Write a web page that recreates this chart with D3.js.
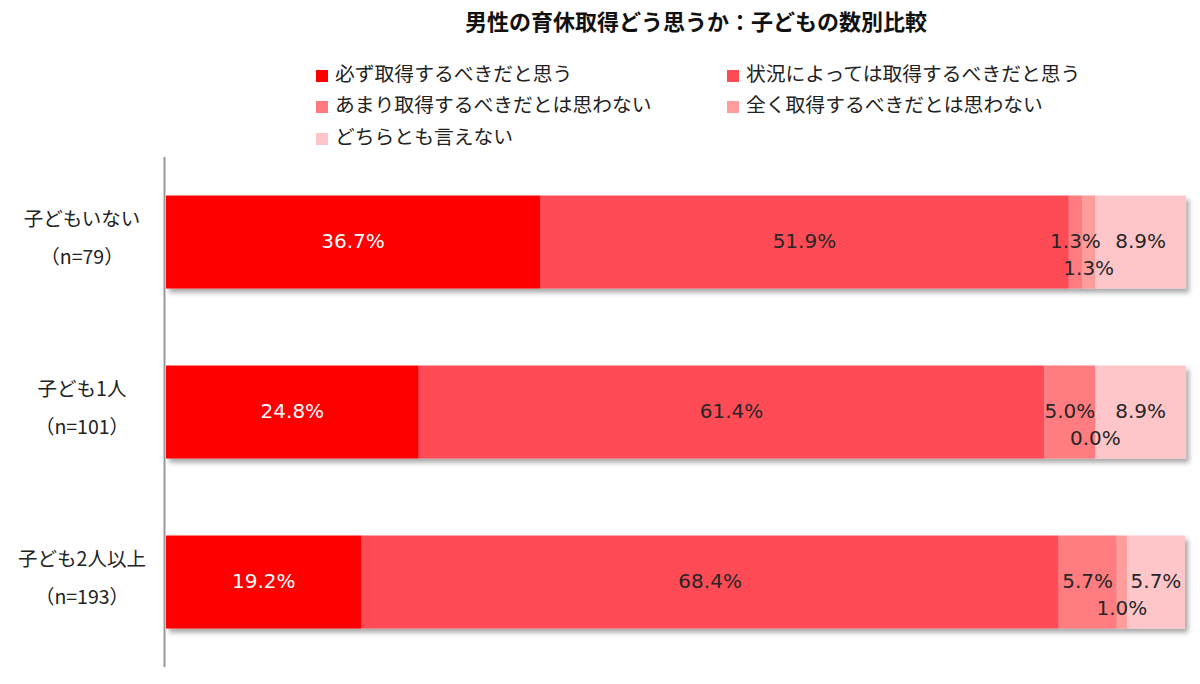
<!DOCTYPE html>
<html><head><meta charset="utf-8">
<script src="https://cdn.jsdelivr.net/npm/d3@7"></script>
<style>body{margin:0;background:#fff;}svg{display:block;}</style>
</head><body>
<script>
const title = "男性の育休取得どう思うか：子どもの数別比較";
const categories = ["子どもいない", "子ども1人", "子ども2人以上"];
const sampleSizes = ["（n=79）", "（n=101）", "（n=193）"];
const seriesNames = ["必ず取得するべきだと思う", "状況によっては取得するべきだと思う", "あまり取得するべきだとは思わない", "全く取得するべきだとは思わない", "どちらとも言えない"];
const seriesColors = ["#ff0000", "#ff4b55", "#ff7b80", "#ff9d9d", "#ffc6ca"];
const s1 = [36.7, 24.8, 19.2];
const s2 = [51.9, 61.4, 68.4];
const s3 = [1.3, 5.0, 5.7];
const s4 = [1.3, 0.0, 1.0];
const s5 = [8.9, 8.9, 5.7];
const seriesValues = [s1, s2, s3, s4, s5];

const W = 1200, H = 684;
const svg = d3.select("body").append("svg").attr("width", W).attr("height", H);
const defs = svg.append("defs");
const f = defs.append("filter").attr("id","sh").attr("x","-5%").attr("y","-20%").attr("width","110%").attr("height","150%");
f.append("feDropShadow").attr("dx",3).attr("dy",4).attr("stdDeviation",2.5).attr("flood-color","#000").attr("flood-opacity",0.35);

const jp = "'Noto Sans CJK JP', 'Noto Sans', sans-serif";
const num = "'DejaVu Sans', Verdana, sans-serif";

svg.append("text").attr("x", 696).attr("y", 24).attr("text-anchor","middle").attr("dominant-baseline","middle")
  .attr("font-family", jp).attr("font-weight","bold").attr("font-size", 22).attr("fill","#111").text(title);

// legend
const legPos = [[316,76],[727,76],[316,107],[727,107],[316,139]];
seriesNames.forEach((n,i)=>{
  const g = svg.append("g").attr("transform",`translate(${legPos[i][0]},${legPos[i][1]})`);
  g.append("rect").attr("x",0).attr("y",-6).attr("width",12).attr("height",12).attr("fill",seriesColors[i]);
  g.append("text").attr("x",19).attr("y",0).attr("dominant-baseline","middle").attr("font-family",jp)
    .attr("font-size",19.8).attr("fill","#222").text(n);
});

const x = d3.scaleLinear().domain([0,100]).range([166,1185]);
const y = d3.scaleBand().domain(categories).range([157,667]).paddingInner(0.453).paddingOuter(0.2265);

const rows = categories.map((c,ci)=>{
  let acc = 0;
  return seriesValues.map((sv,si)=>{ const d={cat:c, si, v:sv[ci], x0:acc, x1:acc+sv[ci]}; acc+=sv[ci]; return d;});
});

const barG = svg.append("g");
rows.forEach(r=>{
  const g = barG.append("g").attr("filter","url(#sh)");
  g.selectAll("rect").data(r).join("rect")
    .attr("x",d=>x(d.x0)).attr("width",d=>Math.max(0,x(d.x1)-x(d.x0)))
    .attr("y",d=>y(d.cat)).attr("height",y.bandwidth()).attr("fill",d=>seriesColors[d.si]);
});

// axis line
svg.append("line").attr("x1",164.5).attr("x2",164.5).attr("y1",157).attr("y2",667).attr("stroke","#999").attr("stroke-width",2);

// value labels
rows.forEach(r=>{
  svg.append("g").selectAll("text").data(r).join("text")
    .attr("x",d=>(x(d.x0)+x(d.x1))/2)
    .attr("y",d=>y(d.cat)+y.bandwidth()/2 + (d.si===3?27:0))
    .attr("text-anchor","middle").attr("dominant-baseline","middle")
    .attr("font-family",num).attr("font-size",20)
    .attr("fill",d=>d.si===0?"#fff":"#262626")
    .text(d=>d.v.toFixed(1)+"%");
});

// category labels
categories.forEach((c,i)=>{
  const cy = y(c)+y.bandwidth()/2;
  svg.append("text").attr("x",82).attr("y",cy-21).attr("text-anchor","middle").attr("dominant-baseline","middle")
    .attr("font-family",jp).attr("font-size",19.5).attr("fill","#222").text(c);
  svg.append("text").attr("x",82).attr("y",cy+17).attr("text-anchor","middle").attr("dominant-baseline","middle")
    .attr("font-family",jp).attr("font-size",19.5).attr("fill","#222").text(sampleSizes[i]);
});
</script>
</body></html>
